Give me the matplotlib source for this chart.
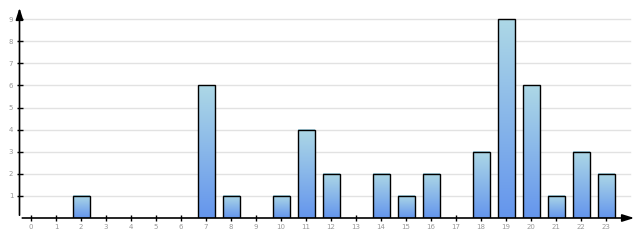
import matplotlib.pyplot as plt
import numpy as np
from matplotlib.colors import LinearSegmentedColormap

hours = list(range(24))
counts = [0, 0, 1, 0, 0, 0, 0, 6, 1, 0, 1, 4, 2, 0, 2, 1, 2, 0, 3, 9, 6, 1, 3, 2]
yticks = [1, 2, 3, 4, 5, 6, 7, 8, 9]

fig = plt.figure(figsize=(6.4, 2.4), dpi=100)
ax = fig.add_axes([19.5 / 640, 22 / 240, (637 - 19.5) / 640, (218 - 5) / 240])

xmin, xmax = -0.46, 24.24
ymin, ymax = 0, 9.64

# grid lines
for v in yticks:
    ax.plot([xmin, 23.96], [v, v], color='#e2e2e2', lw=1, zorder=0)

cmap = LinearSegmentedColormap.from_list('bar', ['#6495ed', '#add8e6'])
grad = np.linspace(0, 1, 256).reshape(-1, 1)
w = 0.68
for h, c in zip(hours, counts):
    if c == 0:
        continue
    ax.imshow(grad, cmap=cmap, origin='lower', aspect='auto',
              extent=[h - w / 2, h + w / 2, 0, c], zorder=2)
    ax.add_patch(plt.Rectangle((h - w / 2, 0), w, c, fill=False,
                               edgecolor='black', lw=1.0, zorder=3))

ax.set_xlim(xmin, xmax)
ax.set_ylim(ymin, ymax)

for s in ax.spines.values():
    s.set_visible(False)

# axes with arrows
ax.annotate('', xy=(xmax, 0), xytext=(xmin, 0),
            arrowprops=dict(arrowstyle='-|>,head_length=0.7,head_width=0.22',
                            color='black', lw=1.2), annotation_clip=False)
ax.annotate('', xy=(xmin, ymax), xytext=(xmin, 0),
            arrowprops=dict(arrowstyle='-|>,head_length=0.7,head_width=0.22',
                            color='black', lw=1.2), annotation_clip=False)

ax.set_xticks(hours)
ax.set_xticklabels([str(h) for h in hours])
ax.set_yticks(yticks)
ax.set_yticklabels([str(v) for v in yticks])
ax.tick_params(axis='both', direction='inout', length=5, width=1, color='black',
               labelsize=5, labelcolor='#999999', pad=2)

fig.savefig('out.png', dpi=100)
